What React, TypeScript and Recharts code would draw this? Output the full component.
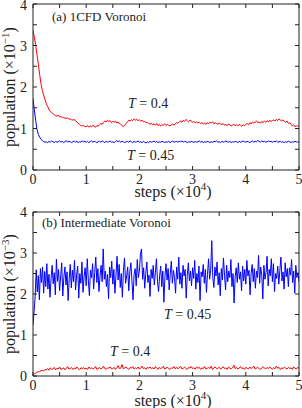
import React from 'react';
import { LineChart, Line, XAxis, YAxis } from 'recharts';

// x positions are in units of 10^4 steps
const STEP_A = 0.025;
const STEP_B_BLUE = 0.02;
const STEP_B_RED = 0.025;

const xTicks = [0, 0.5, 1, 1.5, 2, 2.5, 3, 3.5, 4, 4.5, 5];
const yTicks = [0, 0.5, 1, 1.5, 2, 2.5, 3, 3.5, 4];

// Panel (a): population (x10^-1)
const redA = [
  3.37, 3.20, 3.02, 2.78, 2.55, 2.30, 2.08, 1.92, 1.80, 1.70,
  1.60, 1.53, 1.46, 1.41, 1.38, 1.36, 1.33, 1.31, 1.30, 1.32,
  1.28, 1.29, 1.26, 1.27, 1.25, 1.24, 1.26, 1.22, 1.23, 1.21,
  1.20, 1.22, 1.18, 1.16, 1.12, 1.10, 1.07, 1.06, 1.08, 1.04,
  1.05, 1.07, 1.03, 1.06, 1.04, 1.08, 1.05, 1.03, 1.07, 1.06,
  1.09, 1.12, 1.10, 1.15, 1.18, 1.16, 1.20, 1.17, 1.19, 1.14,
  1.17, 1.15, 1.18, 1.13, 1.16, 1.12, 1.10, 1.07, 1.05, 1.08,
  1.12, 1.16, 1.20, 1.18, 1.21, 1.19, 1.23, 1.20, 1.22, 1.19,
  1.21, 1.18, 1.20, 1.16, 1.17, 1.14, 1.15, 1.12, 1.10, 1.13,
  1.09, 1.11, 1.08, 1.12, 1.07, 1.10, 1.06, 1.09, 1.08, 1.11,
  1.07, 1.10, 1.08, 1.06, 1.09, 1.11, 1.08, 1.12, 1.14, 1.13,
  1.16, 1.18, 1.15, 1.20, 1.17, 1.22, 1.19, 1.16, 1.20, 1.18,
  1.15, 1.17, 1.14, 1.16, 1.13, 1.15, 1.12, 1.14, 1.11, 1.13,
  1.10, 1.14, 1.12, 1.15, 1.13, 1.16, 1.11, 1.14, 1.12, 1.10,
  1.13, 1.11, 1.09, 1.12, 1.08, 1.10, 1.07, 1.11, 1.09, 1.06,
  1.08, 1.10, 1.07, 1.09, 1.06, 1.10, 1.08, 1.05, 1.09, 1.07,
  1.10, 1.12, 1.09, 1.14, 1.11, 1.16, 1.13, 1.15, 1.18, 1.14,
  1.16, 1.13, 1.17, 1.14, 1.18, 1.15, 1.19, 1.16, 1.20, 1.17,
  1.19, 1.21, 1.18, 1.22, 1.19, 1.23, 1.20, 1.18, 1.21, 1.17,
  1.15, 1.18, 1.12, 1.14, 1.10, 1.06, 1.09, 1.04, 1.07, 1.05,
  1.08,
];

const blueA = [
  1.73, 1.45, 1.20, 0.98, 0.86, 0.79, 0.74, 0.71, 0.69, 0.67,
  0.68, 0.66, 0.69, 0.67, 0.70, 0.68, 0.66, 0.69, 0.67, 0.68,
  0.70, 0.67, 0.69, 0.66, 0.68, 0.71, 0.67, 0.69, 0.68, 0.66,
  0.68, 0.70, 0.67, 0.69, 0.66, 0.68, 0.67, 0.70, 0.68, 0.69,
  0.67, 0.69, 0.66, 0.68, 0.70, 0.67, 0.69, 0.68, 0.66, 0.68,
  0.69, 0.67, 0.70, 0.68, 0.66, 0.69, 0.67, 0.68, 0.70, 0.67,
  0.68, 0.66, 0.69, 0.71, 0.68, 0.70, 0.67, 0.69, 0.68, 0.66,
  0.68, 0.69, 0.67, 0.70, 0.68, 0.66, 0.69, 0.67, 0.68, 0.70,
  0.67, 0.68, 0.66, 0.69, 0.67, 0.65, 0.68, 0.66, 0.69, 0.67,
  0.68, 0.70, 0.67, 0.69, 0.66, 0.68, 0.67, 0.69, 0.68, 0.66,
  0.68, 0.67, 0.69, 0.66, 0.68, 0.70, 0.67, 0.68, 0.69, 0.67,
  0.69, 0.68, 0.70, 0.67, 0.69, 0.68, 0.66, 0.68, 0.67, 0.69,
  0.68, 0.66, 0.69, 0.67, 0.68, 0.70, 0.67, 0.69, 0.66, 0.68,
  0.67, 0.69, 0.68, 0.66, 0.68, 0.67, 0.69, 0.68, 0.70, 0.67,
  0.68, 0.66, 0.69, 0.67, 0.68, 0.70, 0.68, 0.67, 0.69, 0.66,
  0.68, 0.67, 0.69, 0.68, 0.66, 0.69, 0.67, 0.68, 0.70, 0.68,
  0.67, 0.69, 0.68, 0.66, 0.68, 0.70, 0.67, 0.69, 0.68, 0.71,
  0.69, 0.67, 0.70, 0.68, 0.69, 0.67, 0.68, 0.70, 0.68, 0.69,
  0.67, 0.69, 0.68, 0.70, 0.67, 0.68, 0.69, 0.67, 0.68, 0.66,
  0.68, 0.67, 0.69, 0.68, 0.66, 0.68, 0.67, 0.69, 0.68, 0.67,
  0.68,
];

// Panel (b): population (x10^-3)
const blueB = [
  1.24, 1.57, 1.93, 2.59, 2.05, 2.45, 1.86, 2.62, 2.28, 2.66,
  2.02, 2.55, 2.18, 2.74, 2.12, 2.48, 1.92, 2.38, 2.70, 2.25,
  2.52, 1.98, 2.85, 2.31, 2.60, 2.08, 2.44, 2.76, 1.95, 2.40,
  2.66, 2.22, 2.54, 1.84, 2.36, 2.72, 2.15, 2.58, 2.30, 2.82,
  2.10, 2.46, 2.68, 1.90, 2.50, 2.26, 2.78, 2.04, 2.42, 2.64,
  2.20, 2.86, 2.34, 1.96, 2.58, 2.40, 2.74, 2.12, 2.52, 2.90,
  2.28, 2.62, 2.06, 2.44, 2.70, 2.30, 3.10, 2.36, 2.56, 2.18,
  2.48, 1.88, 2.66, 2.40, 2.80, 2.24, 2.60, 2.02, 2.46, 2.92,
  2.34, 2.72, 2.16, 2.50, 1.92, 2.58, 2.88, 2.26, 2.44, 2.66,
  2.08, 2.54, 2.76, 2.32, 1.86, 2.48, 2.62, 2.20, 2.84, 2.40,
  2.56, 2.98, 3.10, 2.36, 2.64, 2.14, 2.50, 2.78, 2.28, 2.46,
  1.94, 2.60, 2.38, 2.70, 2.22, 2.52, 2.86, 2.30, 2.06, 2.44,
  2.68, 2.18, 2.56, 1.80, 2.42, 2.74, 2.34, 2.62, 2.10, 2.48,
  2.80, 2.26, 2.58, 2.40, 2.02, 2.66, 2.36, 2.90, 2.24, 2.52,
  2.14, 2.70, 2.44, 2.60, 1.90, 2.46, 2.76, 2.32, 2.56, 2.20,
  2.64, 2.38, 2.82, 2.12, 2.50, 2.28, 2.68, 1.84, 2.54, 2.42,
  2.72, 2.26, 2.60, 2.04, 2.48, 2.86, 2.36, 2.58, 3.30, 2.40,
  2.16, 2.66, 2.44, 2.78, 2.22, 2.52, 1.96, 2.62, 2.34, 2.88,
  2.46, 2.10, 2.70, 2.30, 2.56, 2.40, 2.84, 2.18, 2.50, 1.78,
  2.42, 2.64, 2.28, 2.76, 2.36, 2.54, 2.08, 2.68, 2.32, 2.60,
  2.24, 2.82, 2.44, 2.58, 1.98, 2.50, 2.72, 2.30, 2.62, 2.14,
  2.56, 2.40, 2.94, 2.26, 2.66, 2.46, 1.88, 2.70, 2.36, 2.52,
  2.92, 2.20, 2.60, 2.44, 2.86, 2.30, 2.74, 2.06, 2.50, 2.38,
  2.68, 2.24, 2.58, 2.90, 2.32, 2.54, 2.12, 2.76, 2.42, 2.62,
  2.18, 2.64, 2.46, 2.84, 2.28, 2.56, 2.02, 2.70, 2.40, 2.52,
  2.30,
];

const redB = [
  0.02, 0.05, 0.07, 0.09, 0.11, 0.10, 0.13, 0.14, 0.12, 0.16,
  0.15, 0.18, 0.14, 0.20, 0.16, 0.17, 0.21, 0.15, 0.19, 0.17,
  0.22, 0.16, 0.18, 0.20, 0.15, 0.19, 0.23, 0.17, 0.18, 0.21,
  0.16, 0.19, 0.17, 0.22, 0.18, 0.15, 0.20, 0.18, 0.21, 0.17,
  0.19, 0.16, 0.22, 0.18, 0.20, 0.17, 0.19, 0.23, 0.16, 0.18,
  0.21, 0.17, 0.19, 0.24, 0.18, 0.16, 0.20, 0.19, 0.22, 0.17,
  0.18, 0.21, 0.16, 0.20, 0.25, 0.18, 0.19, 0.28, 0.17, 0.20,
  0.22, 0.18, 0.16, 0.21, 0.19, 0.23, 0.17, 0.20, 0.18, 0.22,
  0.17, 0.19, 0.24, 0.18, 0.20, 0.16, 0.21, 0.19, 0.22, 0.18,
  0.20, 0.17, 0.23, 0.19, 0.16, 0.21, 0.18, 0.20, 0.24, 0.17,
  0.19, 0.22, 0.18, 0.16, 0.20, 0.19, 0.23, 0.17, 0.21, 0.18,
  0.20, 0.24, 0.17, 0.19, 0.22, 0.18, 0.16, 0.21, 0.19, 0.23,
  0.18, 0.20, 0.17, 0.22, 0.19, 0.21, 0.16, 0.20, 0.18, 0.23,
  0.17, 0.19, 0.21, 0.18, 0.24, 0.16, 0.20, 0.22, 0.18, 0.19,
  0.21, 0.17, 0.19, 0.23, 0.18, 0.20, 0.16, 0.22, 0.19, 0.17,
  0.20, 0.26, 0.18, 0.21, 0.17, 0.19, 0.23, 0.18, 0.20, 0.16,
  0.21, 0.19, 0.17, 0.22, 0.18, 0.20, 0.24, 0.17, 0.19, 0.21,
  0.18, 0.16, 0.20, 0.23, 0.19, 0.17, 0.21, 0.18, 0.22, 0.19,
  0.17, 0.20, 0.18, 0.24, 0.19, 0.21, 0.16, 0.20, 0.18, 0.22,
  0.19, 0.17, 0.21, 0.18, 0.20, 0.16, 0.22, 0.19, 0.17, 0.21,
  0.19,
];

const toPoints = (vals: number[], step: number) =>
  vals.map((v, i) => ({ x: Math.round(i * step * 10000) / 10000, y: v }));

const dataRedA = toPoints(redA, STEP_A);
const dataBlueA = toPoints(blueA, STEP_A);
const dataBlueB = toPoints(blueB, STEP_B_BLUE);
const dataRedB = toPoints(redB, STEP_B_RED);

const FONT = '"Liberation Serif", "Times New Roman", serif';
const AXIS = '#222';
const TL = 4;

const BottomTick = (props: any) => {
  const { x, y, payload } = props;
  const v = payload.value;
  const major = Number.isInteger(v);
  return (
    <g>
      <line x1={x} y1={y} x2={x} y2={y - TL} stroke={AXIS} strokeWidth={1} />
      {major && (
        <text x={x} y={y + 14} textAnchor="middle" fontFamily={FONT} fontSize={14} fill="#222">
          {v}
        </text>
      )}
    </g>
  );
};

const TopTick = (props: any) => {
  const { x, y } = props;
  return <line x1={x} y1={y} x2={x} y2={y + TL} stroke={AXIS} strokeWidth={1} />;
};

const LeftTick = (props: any) => {
  const { x, y, payload } = props;
  const v = payload.value;
  const major = Number.isInteger(v);
  return (
    <g>
      <line x1={x} y1={y} x2={x + TL} y2={y} stroke={AXIS} strokeWidth={1} />
      {major && (
        <text x={x - 6} y={Math.max(y + 5, 10)} textAnchor="end" fontFamily={FONT} fontSize={14} fill="#222">
          {v}
        </text>
      )}
    </g>
  );
};

const RightTick = (props: any) => {
  const { x, y } = props;
  return <line x1={x} y1={y} x2={x - TL} y2={y} stroke={AXIS} strokeWidth={1} />;
};

function Panel({ lines, top, bottom }: { lines: { data: any[]; color: string; key: string }[]; top: number; bottom: number }) {
  return (
    <LineChart width={302} height={204} margin={{ top: top - 1, right: 0, bottom: bottom - 30, left: 0 }}>
      <XAxis
        xAxisId="b"
        dataKey="x"
        type="number"
        domain={[0, 5]}
        ticks={xTicks}
        interval={0}
        height={30}
        tickSize={0}
        tickMargin={0}
        tickLine={false}
        axisLine={{ stroke: AXIS }}
        tick={<BottomTick />}
        allowDataOverflow
      />
      <XAxis
        xAxisId="t"
        orientation="top"
        dataKey="x"
        type="number"
        domain={[0, 5]}
        ticks={xTicks}
        interval={0}
        height={1}
        tickSize={0}
        tickMargin={0}
        tickLine={false}
        axisLine={{ stroke: AXIS }}
        tick={<TopTick />}
        allowDataOverflow
      />
      <YAxis
        yAxisId="l"
        type="number"
        domain={[0, 4]}
        ticks={yTicks}
        interval={0}
        width={33}
        tickSize={0}
        tickMargin={0}
        tickLine={false}
        axisLine={{ stroke: AXIS }}
        tick={<LeftTick />}
        allowDataOverflow
      />
      <YAxis
        yAxisId="r"
        orientation="right"
        type="number"
        domain={[0, 4]}
        ticks={yTicks}
        interval={0}
        width={3}
        tickSize={0}
        tickMargin={0}
        tickLine={false}
        axisLine={{ stroke: AXIS }}
        tick={<RightTick />}
        allowDataOverflow
      />
      {lines.map((l) => (
        <Line
          key={l.key}
          xAxisId="b"
          yAxisId="l"
          data={l.data}
          dataKey="y"
          type="linear"
          stroke={l.color}
          strokeWidth={1}
          dot={false}
          activeDot={false}
          isAnimationActive={false}
        />
      ))}
    </LineChart>
  );
}

const RED = '#ff0000';
const BLUE = '#0000ff';

export default function App() {
  const txt = { fontFamily: FONT, fill: '#222' } as const;
  return (
    <div style={{ position: 'absolute', left: 0, top: 0, width: 302, height: 408, background: '#fff' }}>
      <div style={{ position: 'absolute', left: 0, top: 0 }}>
        <Panel
          top={4}
          bottom={34}
          lines={[
            { key: 'redA', data: dataRedA, color: RED },
            { key: 'blueA', data: dataBlueA, color: BLUE },
          ]}
        />
      </div>
      <div style={{ position: 'absolute', left: 0, top: 204 }}>
        <Panel
          top={8}
          bottom={32}
          lines={[
            { key: 'blueB', data: dataBlueB, color: BLUE },
            { key: 'redB', data: dataRedB, color: RED },
          ]}
        />
      </div>
      <svg
        width={302}
        height={408}
        style={{ position: 'absolute', left: 0, top: 0, pointerEvents: 'none' }}
      >
        {/* Panel (a) */}
        <text x={52} y={21} fontSize={13} {...txt}>(a) 1CFD Voronoi</text>
        <text x={128} y={108} fontSize={14} {...txt}>
          <tspan fontStyle="italic">T</tspan> = 0.4
        </text>
        <text x={127} y={160} fontSize={14} {...txt}>
          <tspan fontStyle="italic">T</tspan> = 0.45
        </text>
        <text transform="translate(15,87) rotate(-90)" textAnchor="middle" fontSize={16} {...txt}>
          population (×10<tspan fontSize={11} dy={-6}>−1</tspan><tspan dy={6}>)</tspan>
        </text>
        <text x={173} y={197} textAnchor="middle" fontSize={16} {...txt}>
          steps (×10<tspan fontSize={11} dy={-7}>4</tspan><tspan dy={7}>)</tspan>
        </text>

        {/* Panel (b) */}
        <text x={42} y={227} fontSize={13} {...txt}>(b) Intermediate Voronoi</text>
        <text x={164} y={319} fontSize={14} {...txt}>
          <tspan fontStyle="italic">T</tspan> = 0.45
        </text>
        <text x={110} y={356} fontSize={14} {...txt}>
          <tspan fontStyle="italic">T</tspan> = 0.4
        </text>
        <text transform="translate(15,294) rotate(-90)" textAnchor="middle" fontSize={16} {...txt}>
          population (×10<tspan fontSize={11} dy={-6}>−3</tspan><tspan dy={6}>)</tspan>
        </text>
        <text x={173} y={406} textAnchor="middle" fontSize={16} {...txt}>
          steps (×10<tspan fontSize={11} dy={-7}>4</tspan><tspan dy={7}>)</tspan>
        </text>
      </svg>
    </div>
  );
}
